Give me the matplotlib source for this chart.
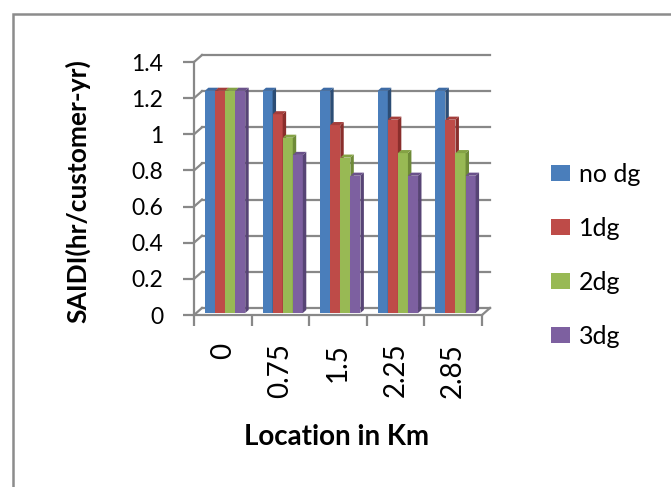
"""Excel-style 3D clustered column chart: SAIDI vs DG location."""
import matplotlib
matplotlib.use("Agg")
import matplotlib.pyplot as plt
from matplotlib.patches import Patch, Polygon, Rectangle

locations = ["0", "0.75", "1.5", "2.25", "2.85"]
series_names = ["no dg", "1dg", "2dg", "3dg"]
no_dg = [1.23, 1.23, 1.23, 1.23, 1.23]
one_dg = [1.23, 1.10, 1.04, 1.07, 1.07]
two_dg = [1.23, 0.97, 0.86, 0.885, 0.885]
three_dg = [1.23, 0.875, 0.76, 0.76, 0.76]
y_ticks = [0, 0.2, 0.4, 0.6, 0.8, 1.0, 1.2, 1.4]

# front, side, top shades per series
palette = [
    ("#4A7EBB", "#2C4D75", "#3D6BA5"),
    ("#BE4B48", "#8A2E2C", "#A43E3B"),
    ("#98B954", "#6E8A38", "#84A244"),
    ("#7D60A0", "#574475", "#6A518A"),
]

GRAY = "#888888"
WALL_DX, WALL_DY = 0.139, 0.039
BAR_DX, BAR_DY = 0.06, 0.017
BAR_OFF_X = (WALL_DX - BAR_DX) / 2
BAR_OFF_Y = (WALL_DY - BAR_DY) / 2
BAR_W = 0.175

plt.rcParams["font.family"] = ["Lato", "DejaVu Sans"]

fig = plt.figure(figsize=(6.71, 4.87), dpi=100)
ax = fig.add_axes([194 / 671, (487 - 315) / 487, 296 / 671, 260 / 487])
n = len(locations)
ax.set_xlim(-0.5, n - 0.5 + WALL_DX)
ax.set_ylim(0, y_ticks[-1] + WALL_DY)
ax.set_facecolor("none")

# back wall, side wall and floor edges
line_kw = dict(color=GRAY, linewidth=1.6, clip_on=False, zorder=1)
for v in y_ticks:
    ax.plot([-0.5, -0.5 + WALL_DX], [v, v + WALL_DY], **line_kw)
    ax.plot([-0.5 + WALL_DX, n - 0.5 + WALL_DX], [v + WALL_DY, v + WALL_DY], **line_kw)
ax.plot([n - 0.5, n - 0.5 + WALL_DX], [0, WALL_DY], **line_kw)

series = [no_dg, one_dg, two_dg, three_dg]
for j in range(n):
    for i, values in enumerate(series):
        front, side, top = palette[i]
        v = values[j]
        z = 3 + 10 * j + i
        xl = j - len(series) * BAR_W / 2 + i * BAR_W + BAR_OFF_X
        xr = xl + BAR_W
        b = BAR_OFF_Y
        ax.bar(xl, v, width=BAR_W, bottom=b, align="edge", color=front,
               linewidth=0, zorder=z)
        ax.add_patch(Polygon([(xr, b), (xr + BAR_DX, b + BAR_DY),
                              (xr + BAR_DX, b + v + BAR_DY), (xr, b + v)],
                             closed=True, facecolor=side, linewidth=0, zorder=z))
        ax.add_patch(Polygon([(xl, b + v), (xl + BAR_DX, b + v + BAR_DY),
                              (xr + BAR_DX, b + v + BAR_DY), (xr, b + v)],
                             closed=True, facecolor=top, linewidth=0, zorder=z))

for side_name in ("top", "right"):
    ax.spines[side_name].set_visible(False)
for side_name in ("left", "bottom"):
    ax.spines[side_name].set_color(GRAY)
    ax.spines[side_name].set_linewidth(1.6)
ax.spines["left"].set_bounds(0, y_ticks[-1])
ax.spines["bottom"].set_bounds(-0.5, n - 0.5)

ax.set_yticks(y_ticks)
ax.set_yticklabels([f"{t:g}" for t in y_ticks])
ax.tick_params(axis="y", length=8, width=1.6, color=GRAY, pad=14, labelsize=16.5)
ax.set_xticks(range(n))
ax.set_xticklabels(locations, rotation=90)
ax.tick_params(axis="x", which="major", length=0, pad=20, labelsize=20)
ax.set_xticks([k - 0.5 for k in range(n + 1)], minor=True)
ax.tick_params(axis="x", which="minor", length=8, width=1.6, color=GRAY)

ax.set_ylabel("SAIDI(hr/customer-yr)", fontsize=19, fontweight="bold")
ax.yaxis.set_label_coords(-0.35, 0.477)
ax.set_xlabel("Location in Km", fontsize=20, fontweight="bold")
ax.xaxis.set_label_coords(0.483, -0.42)

handles = [Patch(facecolor=palette[i][0], edgecolor="none", label=name)
           for i, name in enumerate(series_names)]
fig.legend(handles=handles, loc="upper left", bbox_to_anchor=(551 / 671, 1 - 163 / 487),
           frameon=False, fontsize=18, handlelength=0.76, handleheight=0.6,
           handletextpad=0.36, labelspacing=1.24, borderpad=0, borderaxespad=0)

fig.add_artist(Rectangle((13 / 671, -0.05), 1.0, 1 - 14 / 487 + 0.05,
                         transform=fig.transFigure, fill=False,
                         edgecolor="#8c8c8c", linewidth=1.8))

fig.savefig("out.png", dpi=100)
